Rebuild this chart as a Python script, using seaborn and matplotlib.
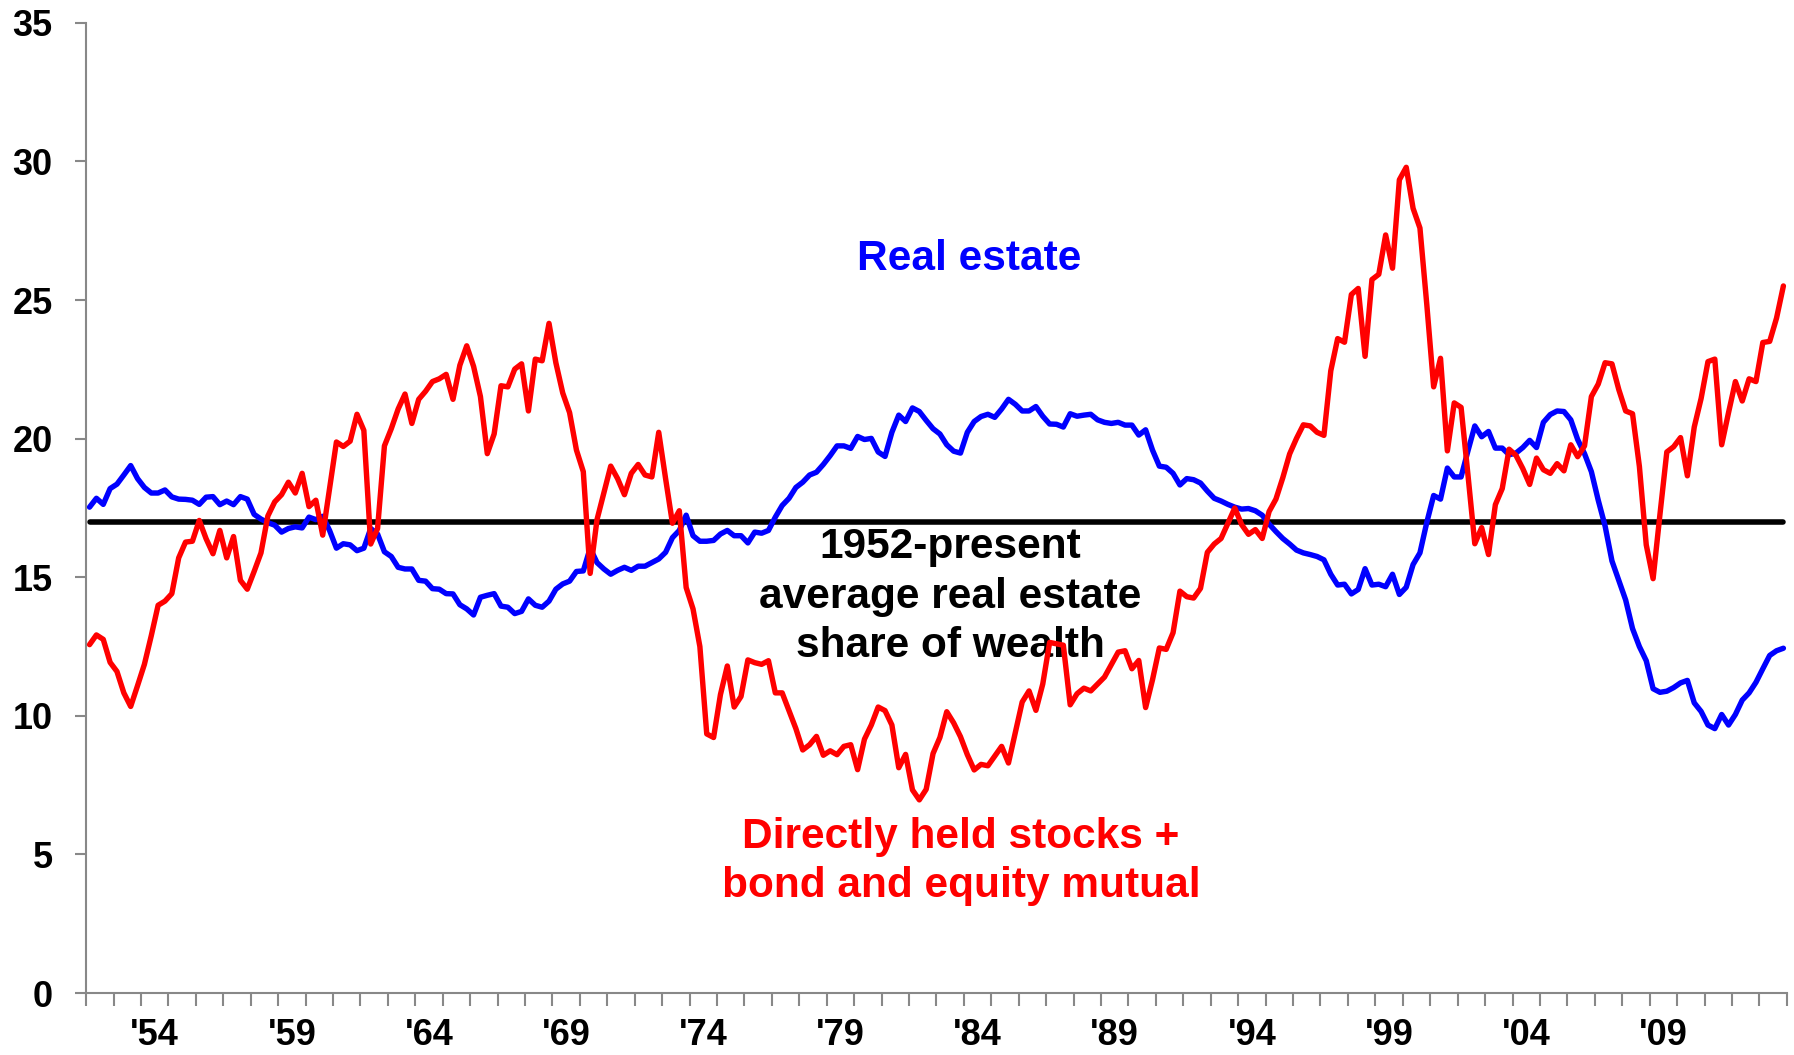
import numpy as np
import pandas as pd
import matplotlib
matplotlib.use("Agg")
import matplotlib.pyplot as plt
import seaborn as sns

# Quarterly shares of household wealth (%), 1952Q1 - 2013Q4
real_estate = [
    17.53, 17.85, 17.63, 18.20,  18.36, 18.69, 19.03, 18.56,  # 52-53
    18.24, 18.04, 18.04, 18.15,  17.90, 17.82, 17.81, 17.78,  # 54-55
    17.63, 17.89, 17.91, 17.62,  17.75, 17.62, 17.91, 17.82,  # 56-57
    17.27, 17.10, 16.97, 16.88,  16.63, 16.76, 16.82, 16.78,  # 58-59
    17.17, 17.08, 17.20, 16.69,  16.05, 16.21, 16.17, 15.96,  # 60-61
    16.05, 16.76, 16.56, 15.92,  15.75, 15.36, 15.30, 15.30,  # 62-63
    14.89, 14.86, 14.59, 14.57,  14.41, 14.40, 14.01, 13.86,  # 64-65
    13.64, 14.28, 14.35, 14.41,  13.96, 13.92, 13.69, 13.77,  # 66-67
    14.22, 13.99, 13.92, 14.14,  14.57, 14.76, 14.86, 15.21,  # 68-69
    15.23, 16.05, 15.53, 15.30,  15.11, 15.25, 15.36, 15.25,  # 70-71
    15.40, 15.40, 15.53, 15.66,  15.90, 16.43, 16.69, 17.24,  # 72-73
    16.50, 16.30, 16.30, 16.33,  16.56, 16.69, 16.50, 16.50,  # 74-75
    16.24, 16.63, 16.59, 16.69,  17.17, 17.59, 17.85, 18.24,  # 76-77
    18.43, 18.69, 18.79, 19.07,  19.39, 19.74, 19.74, 19.65,  # 78-79
    20.08, 19.97, 20.01, 19.52,  19.36, 20.23, 20.85, 20.62,  # 80-81
    21.11, 20.98, 20.66, 20.36,  20.17, 19.78, 19.55, 19.48,  # 82-83
    20.23, 20.62, 20.80, 20.88,  20.77, 21.07, 21.42, 21.24,  # 84-85
    21.00, 21.00, 21.16, 20.81,  20.53, 20.52, 20.42, 20.90,  # 86-87
    20.81, 20.85, 20.88, 20.68,  20.59, 20.55, 20.59, 20.49,  # 88-89
    20.49, 20.13, 20.32, 19.59,  19.01, 18.97, 18.75, 18.33,  # 90-91
    18.56, 18.52, 18.40, 18.11,  17.85, 17.75, 17.63, 17.53,  # 92-93
    17.46, 17.48, 17.40, 17.24,  16.92, 16.65, 16.40, 16.20,  # 94-95
    15.98, 15.88, 15.82, 15.75,  15.63, 15.11, 14.72, 14.75,  # 96-97
    14.40, 14.56, 15.31, 14.72,  14.75, 14.66, 15.11, 14.38,  # 98-99
    14.64, 15.46, 15.88, 16.98,  17.95, 17.82, 18.94, 18.62,  # 00-01
    18.62, 19.56, 20.46, 20.07,  20.26, 19.66, 19.66, 19.42,  # 02-03
    19.48, 19.68, 19.94, 19.68,  20.59, 20.87, 21.00, 20.98,  # 04-05
    20.68, 19.97, 19.46, 18.81,  17.78, 16.85, 15.59, 14.88,  # 06-07
    14.18, 13.15, 12.50, 11.99,  10.98, 10.85, 10.89, 11.02,  # 08-09
    11.19, 11.28, 10.47, 10.16,   9.67,  9.54, 10.05,  9.67,  # 10-11
    10.05, 10.57, 10.83, 11.21,  11.70, 12.18, 12.35, 12.44,  # 12-13
]

stocks = [
    12.57, 12.92, 12.76, 11.93,  11.60, 10.83, 10.34, 11.09,  # 52-53
    11.86, 12.89, 13.99, 14.14,  14.41, 15.70, 16.27, 16.30,  # 54-55
    17.05, 16.39, 15.85, 16.69,  15.70, 16.47, 14.89, 14.57,  # 56-57
    15.21, 15.88, 17.21, 17.72,  17.98, 18.43, 18.04, 18.75,  # 58-59
    17.55, 17.78, 16.52, 18.20,  19.88, 19.72, 19.91, 20.88,  # 60-61
    20.30, 16.20, 16.76, 19.74,  20.36, 21.07, 21.61, 20.55,  # 62-63
    21.42, 21.71, 22.06, 22.16,  22.32, 21.42, 22.65, 23.35,  # 64-65
    22.61, 21.52, 19.46, 20.17,  21.91, 21.87, 22.51, 22.70,  # 66-67
    21.00, 22.87, 22.81, 24.16,  22.74, 21.65, 20.94, 19.59,  # 68-69
    18.81, 15.14, 17.08, 18.04,  19.01, 18.56, 17.98, 18.75,  # 70-71
    19.07, 18.69, 18.62, 20.23,  18.56, 16.95, 17.40, 14.63,  # 72-73
    13.86, 12.50,  9.35,  9.22,  10.77, 11.80, 10.32, 10.70,  # 74-75
    12.02, 11.92, 11.86, 11.99,  10.83, 10.83, 10.19,  9.54,  # 76-77
     8.77,  8.96,  9.26,  8.58,   8.74,  8.60,  8.90,  8.96,  # 78-79
     8.06,  9.16,  9.67, 10.32,  10.19,  9.67,  8.13,  8.61,  # 80-81
     7.33,  6.97,  7.35,  8.64,   9.22, 10.15,  9.75,  9.25,  # 82-83
     8.60,  8.05,  8.25,  8.20,   8.55,  8.90,  8.30,  9.40,  # 84-85
    10.50, 10.90, 10.20, 11.15,  12.65, 12.60, 12.55, 10.40,  # 86-87
    10.80, 11.00, 10.90, 11.15,  11.40, 11.85, 12.30, 12.35,  # 88-89
    11.70, 12.00, 10.30, 11.30,  12.45, 12.40, 13.00, 14.50,  # 90-91
    14.30, 14.25, 14.60, 15.90,  16.20, 16.40, 16.95, 17.50,  # 92-93
    16.90, 16.55, 16.72, 16.40,  17.37, 17.82, 18.59, 19.45,  # 94-95
    20.01, 20.50, 20.46, 20.23,  20.12, 22.45, 23.61, 23.48,  # 96-97
    25.20, 25.42, 22.97, 25.74,  25.93, 27.35, 26.15, 29.34,  # 98-99
    29.79, 28.31, 27.60, 24.84,  21.87, 22.90, 19.56, 21.29,  # 00-01
    21.13, 18.70, 16.21, 16.79,  15.82, 17.62, 18.20, 19.62,  # 02-03
    19.40, 18.92, 18.35, 19.30,  18.88, 18.75, 19.10, 18.84,  # 04-05
    19.78, 19.35, 19.74, 21.52,  21.97, 22.74, 22.70, 21.77,  # 06-07
    21.00, 20.90, 19.00, 16.17,  14.95, 17.27, 19.52, 19.71,  # 08-09
    20.04, 18.66, 20.42, 21.45,  22.78, 22.87, 19.78, 20.94,  # 10-11
    22.06, 21.36, 22.16, 22.06,  23.47, 23.51, 24.35, 25.51,  # 12-13
]

avg_share = 17.0   # 1952-present average real estate share
years = list(range(1952, 2014))
label_years = list(range(1954, 2010, 5))
tick_labels = ["'54", "'59", "'64", "'69", "'74", "'79", "'84", "'89", "'94", "'99", "'04", "'09"]

# quarter midpoints as decimal years
quarter_x = [y + (q + 0.5) / 4 for y in years for q in range(4)]
df = pd.DataFrame({"x": quarter_x, "real_estate": real_estate,
                   "stocks": stocks, "avg": avg_share})

sns.set_style("white")
plt.rcParams["font.family"] = ["Liberation Sans", "DejaVu Sans"]
plt.rcParams["font.weight"] = "bold"

fig = plt.figure(figsize=(17.94, 10.55), dpi=100)
ax = fig.add_axes([0.048, 0.0587, 0.948, 0.9196])

sns.lineplot(data=df, x="x", y="avg", color="black", linewidth=4.0,
             solid_capstyle="round", ax=ax, zorder=2)
sns.lineplot(data=df, x="x", y="real_estate", color="#0000FF", linewidth=3.9,
             ax=ax, zorder=3)
sns.lineplot(data=df, x="x", y="stocks", color="#FF0000", linewidth=3.9,
             ax=ax, zorder=4)

ax.set_xlim(years[0], years[-1] + 1)
ax.set_ylim(0, 35)
ax.set_xlabel("")
ax.set_ylabel("")

# yearly tick marks, labels every five years centred in the year
ax.set_xticks(years + [years[-1] + 1])
ax.set_xticklabels([])
ax.set_xticks([y + 0.5 for y in label_years], minor=True)
ax.set_xticklabels(tick_labels, minor=True, fontsize=26, fontweight="bold",
                   color="black")
ax.tick_params(axis="x", which="major", direction="out", length=9, width=1.5,
               color="#888888", bottom=True)
ax.tick_params(axis="x", which="minor", length=0, pad=18)

ax.set_yticks(range(0, 36, 5))
ax.set_yticklabels([str(v) for v in range(0, 36, 5)], fontsize=26,
                   fontweight="bold", color="black")
ax.tick_params(axis="y", direction="out", length=8, width=1.5, color="#888888",
               left=True, pad=16)

for s in ["top", "right"]:
    ax.spines[s].set_visible(False)
for s in ["left", "bottom"]:
    ax.spines[s].set_color("#888888")
    ax.spines[s].set_linewidth(1.5)

ax.text(1984.2, 26.5, "Real estate", color="#0000FF", fontsize=30.5,
        fontweight="bold", ha="center", va="center")
ax.text(1983.5, 14.3, "1952-present\naverage real estate\nshare of wealth",
        color="black", fontsize=30.5, fontweight="bold", ha="center",
        va="center", linespacing=1.3)
ax.text(1983.9, 4.75, "Directly held stocks +\nbond and equity mutual",
        color="#FF0000", fontsize=30.5, fontweight="bold", ha="center",
        va="center", linespacing=1.3)

fig.savefig("out.png", dpi=100)
